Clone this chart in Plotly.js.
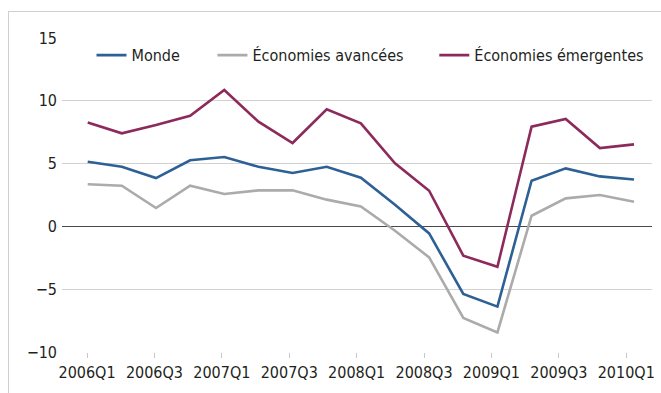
<!DOCTYPE html>
<html>
<head>
<meta charset="utf-8">
<script src="https://cdn.plot.ly/plotly-3.0.1.min.js"></script>
<style>
  html, body { margin: 0; padding: 0; background: #ffffff; }
  #wrap { position: relative; width: 661px; height: 393px; overflow: hidden; }
  #frame { position: absolute; left: 8px; top: 11px; width: 700px; height: 420px;
           border-left: 1.5px solid #cfcfcf; border-top: 1.5px solid #cfcfcf; }
  #chart { position: absolute; left: 0; top: 0; width: 661px; height: 393px; }
</style>
</head>
<body>
<div id="wrap">
  <div id="frame"></div>
  <div id="chart"></div>
</div>
<script>
const quarters = ["2006Q1","2006Q2","2006Q3","2006Q4","2007Q1","2007Q2","2007Q3","2007Q4",
                  "2008Q1","2008Q2","2008Q3","2008Q4","2009Q1","2009Q2","2009Q3","2009Q4","2010Q1"];
const monde = [5.15, 4.75, 3.85, 5.26, 5.52, 4.75, 4.25, 4.75, 3.88, 1.73, -0.56, -5.38, -6.39, 3.64, 4.62, 3.98, 3.74];
const avancees = [3.35, 3.24, 1.46, 3.24, 2.58, 2.87, 2.87, 2.13, 1.59, -0.34, -2.47, -7.29, -8.44, 0.85, 2.23, 2.50, 1.97];
const emergentes = [8.28, 7.41, 8.07, 8.81, 10.86, 8.34, 6.64, 9.32, 8.20, 5.02, 2.84, -2.33, -3.21, 7.94, 8.55, 6.24, 6.53];
const seriesNames = ["Monde", "Économies avancées", "Économies émergentes"];
const tickLabels = ["2006Q1","2006Q3","2007Q1","2007Q3","2008Q1","2008Q3","2009Q1","2009Q3","2010Q1"];
const yTicks = [-10, -5, 0, 5, 10, 15];

const idx = quarters.map((q, i) => i);
const tickPos = tickLabels.map(t => quarters.indexOf(t) * 0.987 - 0.02);

const font = { family: "DejaVu Sans Condensed, DejaVu Sans, sans-serif", size: 16, color: "#231f20" };

const traces = [
  { x: idx, y: monde, name: seriesNames[0], type: "scatter", mode: "lines",
    line: { color: "#2d6195", width: 2.6 }, legend: "legend" },
  { x: idx, y: avancees, name: seriesNames[1], type: "scatter", mode: "lines",
    line: { color: "#ababab", width: 2.6 }, legend: "legend2" },
  { x: idx, y: emergentes, name: seriesNames[2], type: "scatter", mode: "lines",
    line: { color: "#8c2a5c", width: 2.6 }, legend: "legend3" }
];

const legBase = { orientation: "h", yanchor: "middle", y: 0.945, xanchor: "left",
                  bgcolor: "rgba(0,0,0,0)", font: font, itemwidth: 30 };

const layout = {
  width: 661, height: 393,
  margin: { l: 62, r: 9, t: 38, b: 41 },
  paper_bgcolor: "rgba(0,0,0,0)",
  plot_bgcolor: "rgba(0,0,0,0)",
  font: font,
  showlegend: true,
  legend: Object.assign({}, legBase, { x: 0.05 }),
  legend2: Object.assign({}, legBase, { x: 0.255 }),
  legend3: Object.assign({}, legBase, { x: 0.631 }),
  xaxis: {
    range: [-0.753, 16.527],
    tickmode: "array", tickvals: tickPos, ticktext: tickLabels,
    ticks: "outside", ticklen: 5, tickcolor: "#c8c8c8", tickwidth: 1,
    showgrid: false, zeroline: false, showline: false,
    tickfont: font, ticklabelstandoff: 1, fixedrange: true
  },
  yaxis: {
    range: [-10, 15],
    tickmode: "array", tickvals: yTicks,
    showgrid: true, gridcolor: "#d2d2d2", gridwidth: 1.2,
    zeroline: true, zerolinecolor: "#4a4a4a", zerolinewidth: 1.5,
    showline: false, ticks: "", tickfont: font, ticklabelstandoff: 4, fixedrange: true
  }
};

Plotly.newPlot("chart", traces, layout, { displayModeBar: false, staticPlot: true });
</script>
</body>
</html>
